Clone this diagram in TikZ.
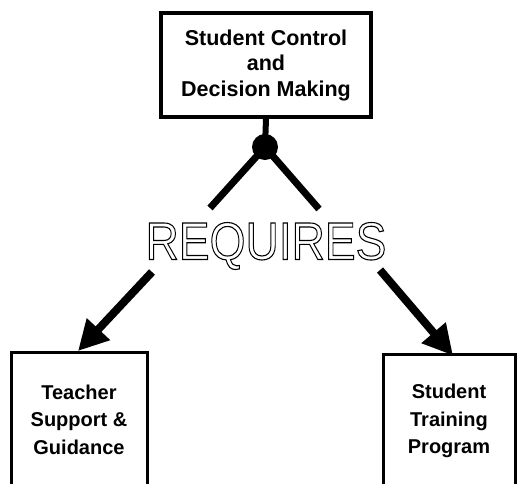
\documentclass[tikz,border=0pt]{standalone}
\usepackage{fontspec}
\setmainfont{Liberation Sans}
\usepackage{tikz}
\usetikzlibrary{arrows.meta, positioning, calc}
\newcommand{\outlinetext}[1]{\special{pdf:literal direct 1 Tr 1.1 w}#1\special{pdf:literal direct 0 Tr}}
\tikzset{
  basebox/.style={rectangle,draw=black,align=center},
  topbox/.style={basebox,line width=4pt,minimum width=210pt,minimum height=104pt,
    font=\fontsize{21.5}{25.5}\selectfont\bfseries},
  lowbox/.style={basebox,line width=3pt,minimum width=136pt,minimum height=134pt,
    font=\fontsize{20}{27.5}\selectfont\bfseries},
  knotnode/.style={circle,fill=black,inner sep=0pt,minimum size=26pt},
  legline/.style={line width=7pt,line cap=butt},
  bigarr/.style={-{Triangle[length=30pt,width=30pt]},line width=8pt}
}
\begin{document}
\begin{tikzpicture}[x=1pt,y=-1pt]
  \fill[white] (0,0) rectangle (517,483);
  \useasboundingbox (0,0) rectangle (517,483);
  \clip (0,0) rectangle (517,483);

  \node[topbox] (ctrl) at (266,65) {Student Control\\and\\Decision Making};
  \node[knotnode] (knot) at (265,147) {};
  \node[inner sep=0pt] (req) at (266,246)
    {\scalebox{0.87}[1]{\fontsize{53}{53}\selectfont\outlinetext{REQUIRES}}};
  \node[lowbox] (teach) at (79,419.5) {Teacher\\Support \&\\Guidance};
  \node[lowbox,minimum width=132pt] (train) at (449,421) {Student\\Training\\Program};

  \coordinate (legl) at (210,208);
  \coordinate (legr) at (319,209);
  \coordinate (tailp) at (152,272);
  \coordinate (tailq) at (380,270);

  \draw[line width=6pt] (ctrl.south) -- (knot.center);
  \draw[legline] (knot.center) -- (legl);
  \draw[legline] (knot.center) -- (legr);

  \draw[bigarr] (tailp) -- ([xshift=-1pt]teach.north);
  \draw[bigarr] (tailq) -- ([xshift=4pt,yshift=-3pt]train.north);
\end{tikzpicture}
\end{document}
